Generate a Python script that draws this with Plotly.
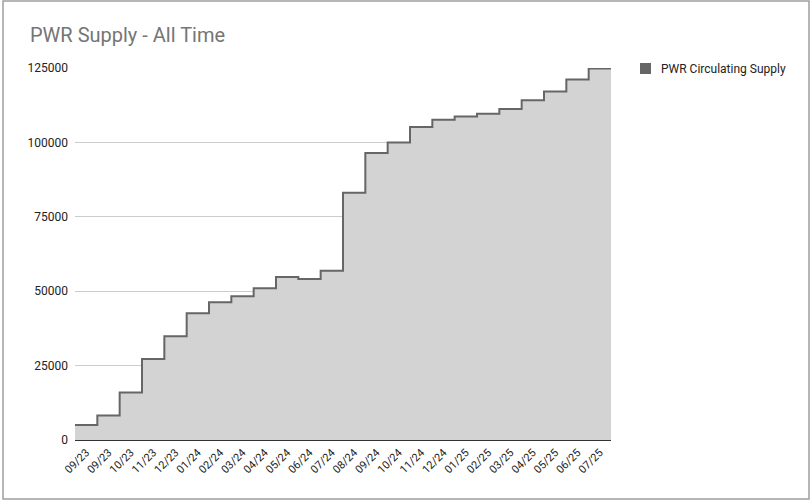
import plotly.graph_objects as go

months = ["09/23", "09/23", "10/23", "11/23", "12/23", "01/24", "02/24", "03/24",
          "04/24", "05/24", "06/24", "07/24", "08/24", "09/24", "10/24", "11/24",
          "12/24", "01/25", "02/25", "03/25", "04/25", "05/25", "06/25", "07/25"]
supply = [5000, 8200, 16000, 27200, 34900, 42600, 46300, 48300,
          51000, 54800, 54100, 56900, 83100, 96400, 100000, 105200,
          107600, 108700, 109600, 111200, 114200, 117100, 121100, 124800]
y_ticks = [0, 25000, 50000, 75000, 100000, 125000]
series_name = "PWR Circulating Supply"

n = len(supply)
xs = list(range(n + 1))
ys = supply + [supply[-1]]

fig = go.Figure()
fig.add_trace(go.Scatter(
    x=xs, y=ys, mode="lines", name=series_name,
    line=dict(shape="hv", color="#666666", width=2),
    fill="tozeroy", fillcolor="#d3d3d3", showlegend=False, hoverinfo="skip"))

L, R, T, B = 75, 611, 68, 440
W, H = 811, 502
def px(x):
    return (x - L) / (R - L)
def py(y):
    return (B - y) / (B - T)

# outer chart border
fig.add_shape(type="rect", xref="paper", yref="paper",
              x0=px(3), x1=px(809), y0=py(499), y1=py(1),
              line=dict(color="#9e9e9e", width=1.5), fillcolor="rgba(0,0,0,0)", layer="below")
# legend swatch + label
fig.add_shape(type="rect", xref="paper", yref="paper",
              x0=px(640), x1=px(651), y0=py(74), y1=py(63),
              line=dict(color="#666666", width=0), fillcolor="#666666")
fig.add_annotation(text=series_name, xref="paper", yref="paper",
                   x=px(659), y=py(68.5), xanchor="left", yanchor="middle", showarrow=False,
                   font=dict(size=12, color="#222222"))

fig.update_layout(
    width=W, height=H,
    margin=dict(l=L, r=W - R, t=T, b=H - B, pad=0),
    paper_bgcolor="white", plot_bgcolor="white",
    showlegend=False,
    font=dict(family="Roboto, Arial, sans-serif", size=12, color="#222222"),
    title=dict(text="PWR Supply - All Time", x=30 / W, xanchor="left",
               y=1 - 35 / H, yanchor="middle",
               font=dict(size=20, color="#757575", family="Roboto, Arial, sans-serif")),
    xaxis=dict(range=[0, n], tickvals=[i + 0.5 for i in range(n)], ticktext=months,
               tickangle=-45, showgrid=False, zeroline=False, showline=False,
               ticks="", ticklabelstandoff=3, tickfont=dict(size=11, color="#222222")),
    yaxis=dict(range=[0, 125000], tickvals=y_ticks, ticktext=[str(v) for v in y_ticks],
               showgrid=True, gridcolor="#cccccc", gridwidth=1,
               zeroline=True, zerolinecolor="#333333", zerolinewidth=1.5,
               ticks="", ticklabelstandoff=6, tickfont=dict(size=12, color="#222222")),
)

fig.write_html("out.html", config={"displayModeBar": False},
               post_script="document.body.style.margin='0';")
